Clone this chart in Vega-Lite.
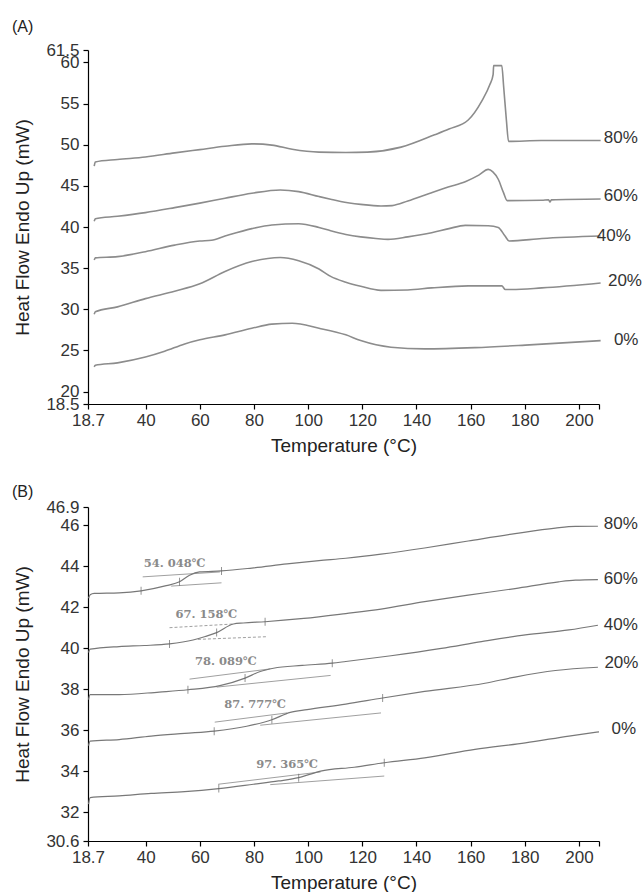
{
 "$schema": "https://vega.github.io/schema/vega-lite/v6.json",
 "padding": {"left": 12, "top": 19, "right": 0, "bottom": 0},
 "spacing": 28,
 "config": {
  "font": "Liberation Sans",
  "view": {"stroke": null},
  "axis": {"grid": false, "domainColor": "#000", "domainWidth": 1.2, "tickColor": "#000", "tickWidth": 1.2, "tickSize": 5, "labelFont": "Liberation Sans", "labelFontSize": 17, "labelColor": "#333", "titleFont": "Liberation Sans", "titleFontSize": 19, "titleFontWeight": "normal", "titleColor": "#222", "labelOverlap": false, "labelFlush": false},
  "title": {"anchor": "start", "frame": "group", "fontSize": 16, "fontWeight": "normal", "font": "Liberation Sans", "color": "#222", "dx": -76}
 },
 "datasets": {
  "curvesA": [
   {"s":"80%","T":21.0,"HF":47.4},{"s":"80%","T":21.4,"HF":47.9},{"s":"80%","T":29.6,"HF":48.2},{"s":"80%","T":39.9,"HF":48.5},{"s":"80%","T":50.7,"HF":49.0},{"s":"80%","T":60,"HF":49.4},{"s":"80%","T":69.3,"HF":49.8},{"s":"80%","T":79.2,"HF":50.1},{"s":"80%","T":86.6,"HF":49.95},{"s":"80%","T":94.1,"HF":49.45},{"s":"80%","T":104,"HF":49.1},{"s":"80%","T":113.9,"HF":49.05},{"s":"80%","T":121.9,"HF":49.1},{"s":"80%","T":134.3,"HF":49.7},{"s":"80%","T":146.7,"HF":51.2},{"s":"80%","T":152,"HF":51.9},{"s":"80%","T":159.1,"HF":53.0},{"s":"80%","T":164.1,"HF":55.3},{"s":"80%","T":167.1,"HF":57.3},{"s":"80%","T":168.3,"HF":58.5},{"s":"80%","T":168.5,"HF":59.6},{"s":"80%","T":171.5,"HF":59.6},{"s":"80%","T":172.2,"HF":57.0},{"s":"80%","T":173.2,"HF":53.0},{"s":"80%","T":174.0,"HF":50.4},{"s":"80%","T":186,"HF":50.5},{"s":"80%","T":208,"HF":50.5},
   {"s":"60%","T":21.0,"HF":40.7},{"s":"60%","T":21.4,"HF":41.0},{"s":"60%","T":29.6,"HF":41.3},{"s":"60%","T":39.9,"HF":41.75},{"s":"60%","T":50.7,"HF":42.35},{"s":"60%","T":60,"HF":42.9},{"s":"60%","T":69.3,"HF":43.5},{"s":"60%","T":79.2,"HF":44.1},{"s":"60%","T":89.7,"HF":44.5},{"s":"60%","T":96.5,"HF":44.3},{"s":"60%","T":104,"HF":43.7},{"s":"60%","T":108.3,"HF":43.37},{"s":"60%","T":112,"HF":43.1},{"s":"60%","T":119.4,"HF":42.75},{"s":"60%","T":126.9,"HF":42.55},{"s":"60%","T":131,"HF":42.6},{"s":"60%","T":136.8,"HF":43.15},{"s":"60%","T":145,"HF":44.1},{"s":"60%","T":151.7,"HF":44.85},{"s":"60%","T":158,"HF":45.5},{"s":"60%","T":163,"HF":46.3},{"s":"60%","T":166.5,"HF":47.0},{"s":"60%","T":168.2,"HF":46.7},{"s":"60%","T":170.2,"HF":45.8},{"s":"60%","T":172.1,"HF":44.2},{"s":"60%","T":173.5,"HF":43.2},{"s":"60%","T":186.3,"HF":43.25},{"s":"60%","T":188.8,"HF":43.3},{"s":"60%","T":189.3,"HF":43.05},{"s":"60%","T":189.8,"HF":43.3},{"s":"60%","T":208,"HF":43.4},
   {"s":"40%","T":21.0,"HF":36.0},{"s":"40%","T":21.4,"HF":36.25},{"s":"40%","T":29.6,"HF":36.4},{"s":"40%","T":39.9,"HF":37.0},{"s":"40%","T":50.7,"HF":37.8},{"s":"40%","T":60,"HF":38.3},{"s":"40%","T":64.3,"HF":38.4},{"s":"40%","T":69.3,"HF":38.9},{"s":"40%","T":79.2,"HF":39.8},{"s":"40%","T":86.6,"HF":40.25},{"s":"40%","T":96.5,"HF":40.4},{"s":"40%","T":104,"HF":39.95},{"s":"40%","T":108.3,"HF":39.55},{"s":"40%","T":113.9,"HF":39.1},{"s":"40%","T":119.4,"HF":38.8},{"s":"40%","T":125,"HF":38.6},{"s":"40%","T":129.5,"HF":38.5},{"s":"40%","T":136.8,"HF":38.8},{"s":"40%","T":145.6,"HF":39.3},{"s":"40%","T":152,"HF":39.8},{"s":"40%","T":158,"HF":40.2},{"s":"40%","T":166.5,"HF":40.15},{"s":"40%","T":170.2,"HF":39.95},{"s":"40%","T":172.7,"HF":38.9},{"s":"40%","T":174.2,"HF":38.3},{"s":"40%","T":186.3,"HF":38.6},{"s":"40%","T":208,"HF":38.9},
   {"s":"20%","T":21.0,"HF":29.4},{"s":"20%","T":21.4,"HF":29.7},{"s":"20%","T":29.6,"HF":30.3},{"s":"20%","T":39.9,"HF":31.3},{"s":"20%","T":50.7,"HF":32.2},{"s":"20%","T":60,"HF":33.1},{"s":"20%","T":69.3,"HF":34.6},{"s":"20%","T":79.2,"HF":35.8},{"s":"20%","T":89.7,"HF":36.3},{"s":"20%","T":96.5,"HF":35.9},{"s":"20%","T":104,"HF":34.9},{"s":"20%","T":108.3,"HF":34.0},{"s":"20%","T":113.9,"HF":33.3},{"s":"20%","T":119.4,"HF":32.8},{"s":"20%","T":126.9,"HF":32.3},{"s":"20%","T":136.8,"HF":32.35},{"s":"20%","T":145.6,"HF":32.6},{"s":"20%","T":159.1,"HF":32.85},{"s":"20%","T":171.5,"HF":32.85},{"s":"20%","T":172.8,"HF":32.4},{"s":"20%","T":175.2,"HF":32.4},{"s":"20%","T":186.3,"HF":32.6},{"s":"20%","T":208,"HF":33.2},
   {"s":"0%","T":21.0,"HF":23.0},{"s":"0%","T":21.4,"HF":23.2},{"s":"0%","T":29.6,"HF":23.5},{"s":"0%","T":39.9,"HF":24.2},{"s":"0%","T":47,"HF":24.9},{"s":"0%","T":54.4,"HF":25.8},{"s":"0%","T":60,"HF":26.3},{"s":"0%","T":69.3,"HF":26.9},{"s":"0%","T":79.2,"HF":27.7},{"s":"0%","T":86.6,"HF":28.2},{"s":"0%","T":94.1,"HF":28.3},{"s":"0%","T":104,"HF":27.7},{"s":"0%","T":113.9,"HF":26.9},{"s":"0%","T":119.4,"HF":26.2},{"s":"0%","T":130.6,"HF":25.4},{"s":"0%","T":143,"HF":25.2},{"s":"0%","T":161.6,"HF":25.35},{"s":"0%","T":180.2,"HF":25.65},{"s":"0%","T":208,"HF":26.2}
  ],
  "labelsA": [
   {"s":"80%","T":209.2,"HF":50.8},{"s":"60%","T":209.2,"HF":43.77},{"s":"40%","T":206.6,"HF":38.94},{"s":"20%","T":210.7,"HF":33.5},{"s":"0%","T":212.9,"HF":26.25}
  ],
  "curvesB": [
   {"s":"80%","T":18.9,"HF":42.45},{"s":"80%","T":19.5,"HF":42.62},{"s":"80%","T":21,"HF":42.68},{"s":"80%","T":30.2,"HF":42.71},{"s":"80%","T":38.3,"HF":42.81},{"s":"80%","T":47.6,"HF":43.06},{"s":"80%","T":52.5,"HF":43.25},{"s":"80%","T":56.2,"HF":43.57},{"s":"80%","T":59.9,"HF":43.73},{"s":"80%","T":68,"HF":43.78},{"s":"80%","T":79.2,"HF":43.92},{"s":"80%","T":92.2,"HF":44.12},{"s":"80%","T":104,"HF":44.28},{"s":"80%","T":113.9,"HF":44.4},{"s":"80%","T":126.9,"HF":44.6},{"s":"80%","T":143,"HF":44.9},{"s":"80%","T":159.1,"HF":45.24},{"s":"80%","T":176.4,"HF":45.6},{"s":"80%","T":191.3,"HF":45.87},{"s":"80%","T":198.7,"HF":45.95},{"s":"80%","T":207,"HF":45.96},
   {"s":"60%","T":18.9,"HF":39.8},{"s":"60%","T":19.5,"HF":39.96},{"s":"60%","T":30.2,"HF":40.09},{"s":"60%","T":39.5,"HF":40.14},{"s":"60%","T":48.8,"HF":40.22},{"s":"60%","T":57.5,"HF":40.41},{"s":"60%","T":62,"HF":40.58},{"s":"60%","T":66.2,"HF":40.77},{"s":"60%","T":72.4,"HF":41.19},{"s":"60%","T":76,"HF":41.24},{"s":"60%","T":84.1,"HF":41.3},{"s":"60%","T":98.4,"HF":41.46},{"s":"60%","T":113.9,"HF":41.7},{"s":"60%","T":126.9,"HF":41.92},{"s":"60%","T":143,"HF":42.28},{"s":"60%","T":159.1,"HF":42.6},{"s":"60%","T":176.4,"HF":42.92},{"s":"60%","T":192.5,"HF":43.25},{"s":"60%","T":198.7,"HF":43.33},{"s":"60%","T":207,"HF":43.36},
   {"s":"40%","T":18.9,"HF":37.5},{"s":"40%","T":19.5,"HF":37.74},{"s":"40%","T":30.2,"HF":37.74},{"s":"40%","T":45,"HF":37.87},{"s":"40%","T":55.6,"HF":37.98},{"s":"40%","T":67.4,"HF":38.18},{"s":"40%","T":76.7,"HF":38.55},{"s":"40%","T":82.3,"HF":38.87},{"s":"40%","T":87.2,"HF":39.03},{"s":"40%","T":97.8,"HF":39.17},{"s":"40%","T":108.9,"HF":39.28},{"s":"40%","T":113.9,"HF":39.36},{"s":"40%","T":130.6,"HF":39.64},{"s":"40%","T":149.2,"HF":40.0},{"s":"40%","T":164,"HF":40.33},{"s":"40%","T":180.2,"HF":40.66},{"s":"40%","T":196.3,"HF":40.9},{"s":"40%","T":207,"HF":41.13},
   {"s":"20%","T":18.9,"HF":35.25},{"s":"20%","T":19.5,"HF":35.47},{"s":"20%","T":30.2,"HF":35.55},{"s":"20%","T":42,"HF":35.72},{"s":"20%","T":54.4,"HF":35.85},{"s":"20%","T":65.3,"HF":35.96},{"s":"20%","T":77.3,"HF":36.2},{"s":"20%","T":86.6,"HF":36.52},{"s":"20%","T":93.4,"HF":36.88},{"s":"20%","T":99.6,"HF":37.01},{"s":"20%","T":113.9,"HF":37.28},{"s":"20%","T":127.5,"HF":37.58},{"s":"20%","T":143,"HF":37.9},{"s":"20%","T":165.3,"HF":38.3},{"s":"20%","T":176.4,"HF":38.6},{"s":"20%","T":191.3,"HF":38.92},{"s":"20%","T":207,"HF":39.08},
   {"s":"0%","T":18.9,"HF":32.4},{"s":"0%","T":19.5,"HF":32.72},{"s":"0%","T":30.2,"HF":32.8},{"s":"0%","T":42,"HF":32.92},{"s":"0%","T":54.4,"HF":33.01},{"s":"0%","T":67,"HF":33.16},{"s":"0%","T":79.8,"HF":33.37},{"s":"0%","T":89.1,"HF":33.53},{"s":"0%","T":96.5,"HF":33.69},{"s":"0%","T":104.6,"HF":34.01},{"s":"0%","T":117,"HF":34.2},{"s":"0%","T":128.1,"HF":34.42},{"s":"0%","T":143,"HF":34.66},{"s":"0%","T":161.6,"HF":35.07},{"s":"0%","T":180.2,"HF":35.39},{"s":"0%","T":196.3,"HF":35.72},{"s":"0%","T":207.4,"HF":35.93}
  ],
  "tangentsB": [
   {"seg":"80a","s":"80%","T":38.9,"HF":43.49},{"seg":"80a","s":"80%","T":67.4,"HF":43.73},
   {"seg":"80b","s":"80%","T":49.4,"HF":43.04},{"seg":"80b","s":"80%","T":68.0,"HF":43.2},
   {"seg":"60a","s":"60%","T":48.8,"HF":41.01},{"seg":"60a","s":"60%","T":72.4,"HF":41.19},
   {"seg":"60b","s":"60%","T":59.3,"HF":40.44},{"seg":"60b","s":"60%","T":84.7,"HF":40.57},
   {"seg":"40a","s":"40%","T":56.2,"HF":38.5},{"seg":"40a","s":"40%","T":86,"HF":39.0},
   {"seg":"40b","s":"40%","T":66.2,"HF":38.11},{"seg":"40b","s":"40%","T":108.3,"HF":38.68},
   {"seg":"20a","s":"20%","T":65.5,"HF":36.4},{"seg":"20a","s":"20%","T":92.2,"HF":36.85},
   {"seg":"20b","s":"20%","T":82.3,"HF":36.25},{"seg":"20b","s":"20%","T":126.9,"HF":36.85},
   {"seg":"0a","s":"0%","T":66.8,"HF":33.37},{"seg":"0a","s":"0%","T":104.6,"HF":33.97},
   {"seg":"0b","s":"0%","T":86,"HF":33.35},{"seg":"0b","s":"0%","T":128.1,"HF":33.77}
  ],
  "marksB": [
   {"T":38.3,"HF":42.81},{"T":52.5,"HF":43.25},{"T":68,"HF":43.78},
   {"T":48.8,"HF":40.22},{"T":66.2,"HF":40.77},{"T":84.1,"HF":41.3},
   {"T":55.6,"HF":37.98},{"T":76.7,"HF":38.55},{"T":108.9,"HF":39.28},
   {"T":65.3,"HF":35.96},{"T":86.6,"HF":36.52},{"T":127.5,"HF":37.58},
   {"T":67,"HF":33.16},{"T":96.5,"HF":33.69},{"T":128.1,"HF":34.42}
  ],
  "tgB": [
   {"txt":"54. 048℃","T":50.7,"HF":44.1},{"txt":"67. 158℃","T":62.4,"HF":41.63},{"txt":"78. 089℃","T":69.6,"HF":39.36},{"txt":"87. 777℃","T":80.4,"HF":37.25},{"txt":"97. 365℃","T":92.2,"HF":34.29}
  ],
  "labelsB": [
   {"s":"80%","T":209.2,"HF":46.08},{"s":"60%","T":209.2,"HF":43.41},{"s":"40%","T":209.2,"HF":41.14},{"s":"20%","T":209.4,"HF":39.28},{"s":"0%","T":212,"HF":36.07}
  ]
 },
 "vconcat": [
  {
   "title": {"text": "(A)", "offset": 6},
   "width": 511,
   "height": 354,
   "encoding": {
    "x": {"field": "T", "type": "quantitative", "scale": {"domain": [18.7, 207.4], "nice": false, "zero": false},
     "axis": {"values": [18.7, 40, 60, 80, 100, 120, 140, 160, 180, 200, 207.4], "labelExpr": "datum.value > 205 ? '' : '' + datum.value", "title": "Temperature (°C)", "titlePadding": 8, "labelPadding": 3}},
    "y": {"field": "HF", "type": "quantitative", "scale": {"domain": [18.5, 61.5], "nice": false, "zero": false},
     "axis": {"values": [18.5, 20, 25, 30, 35, 40, 45, 50, 55, 60, 61.5], "labelExpr": "'' + datum.value", "title": "Heat Flow Endo Up (mW)", "titlePadding": 13, "labelPadding": 4}}
   },
   "layer": [
    {"data": {"name": "curvesA"}, "mark": {"type": "line", "interpolate": "monotone", "color": "#8c8c8c", "strokeWidth": 1.6},
     "encoding": {"detail": {"field": "s", "type": "nominal"}}},
    {"data": {"name": "labelsA"}, "mark": {"type": "text", "align": "left", "baseline": "middle", "fontSize": 17, "color": "#333", "font": "Liberation Sans"},
     "encoding": {"text": {"field": "s", "type": "nominal"}}}
   ]
  },
  {
   "title": {"text": "(B)", "offset": -1.5},
   "width": 511,
   "height": 334,
   "encoding": {
    "x": {"field": "T", "type": "quantitative", "scale": {"domain": [18.7, 207.4], "nice": false, "zero": false},
     "axis": {"values": [18.7, 40, 60, 80, 100, 120, 140, 160, 180, 200, 207.4], "labelExpr": "datum.value > 205 ? '' : '' + datum.value", "title": "Temperature (°C)", "titlePadding": 8, "labelPadding": 3}},
    "y": {"field": "HF", "type": "quantitative", "scale": {"domain": [30.6, 46.9], "nice": false, "zero": false},
     "axis": {"values": [30.6, 32, 34, 36, 38, 40, 42, 44, 46, 46.9], "labelExpr": "'' + datum.value", "title": "Heat Flow Endo Up (mW)", "titlePadding": 13, "labelPadding": 4}}
   },
   "layer": [
    {"data": {"name": "tangentsB"}, "transform": [{"filter": "datum.s != '60%'"}], "mark": {"type": "line", "color": "#a0a0a0", "strokeWidth": 1},
     "encoding": {"detail": {"field": "seg", "type": "nominal"}}},
    {"data": {"name": "tangentsB"}, "transform": [{"filter": "datum.s == '60%'"}], "mark": {"type": "line", "color": "#a0a0a0", "strokeWidth": 1, "strokeDash": [3, 2]},
     "encoding": {"detail": {"field": "seg", "type": "nominal"}}},
    {"data": {"name": "curvesB"}, "mark": {"type": "line", "interpolate": "monotone", "color": "#787878", "strokeWidth": 1.2},
     "encoding": {"detail": {"field": "s", "type": "nominal"}}},
    {"data": {"name": "marksB"}, "mark": {"type": "tick", "orient": "vertical", "size": 8, "thickness": 1, "color": "#666"}},
    {"data": {"name": "tgB"}, "mark": {"type": "text", "font": "DejaVu Serif", "fontWeight": "bold", "fontSize": 11.5, "color": "#8a8a8a", "baseline": "middle"},
     "encoding": {"text": {"field": "txt", "type": "nominal"}}},
    {"data": {"name": "labelsB"}, "mark": {"type": "text", "align": "left", "baseline": "middle", "fontSize": 17, "color": "#333", "font": "Liberation Sans"},
     "encoding": {"text": {"field": "s", "type": "nominal"}}}
   ]
  }
 ]
}
